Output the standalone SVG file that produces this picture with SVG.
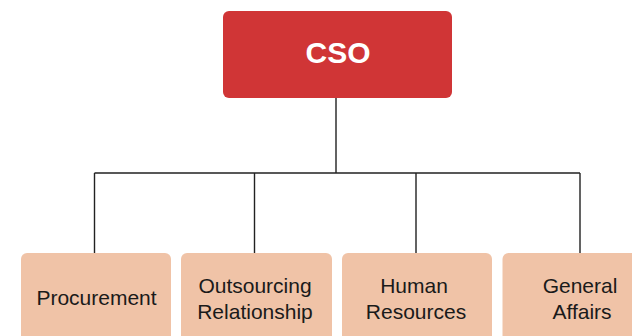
<svg xmlns="http://www.w3.org/2000/svg" width="632" height="336" viewBox="0 0 632 336">
<style>
.child{fill:#f0c3a7;}
.ct{font-family:"Liberation Sans",Arial,sans-serif;font-size:21px;fill:#1a1a1a;text-anchor:middle;}
.conn{stroke:#222;stroke-width:1.4;fill:none;}
</style>
<rect width="632" height="336" fill="#ffffff"/>
<g id="connectors">
<path class="conn" d="M336 98 V173 M94.5 173 H580 M94.5 173 V253 M254.5 173 V253 M416 173 V253 M580 173 V253"/>
</g>
<g id="cso">
<rect x="223" y="11" width="229" height="87" rx="6" fill="#d03536"/>
<text x="338" y="63" font-family="Liberation Sans,Arial,sans-serif" font-size="30" font-weight="bold" fill="#ffffff" text-anchor="middle">CSO</text>
</g>
<g id="procurement">
<rect class="child" x="21" y="253" width="150" height="100" rx="6"/>
<text class="ct" x="96.5" y="305">Procurement</text>
</g>
<g id="outsourcing">
<rect class="child" x="181" y="253" width="151" height="100" rx="6"/>
<text class="ct" x="255" y="293">Outsourcing</text>
<text class="ct" x="255" y="319">Relationship</text>
</g>
<g id="hr">
<rect class="child" x="342" y="253" width="150" height="100" rx="6"/>
<text class="ct" x="414" y="293">Human</text>
<text class="ct" x="416" y="319">Resources</text>
</g>
<g id="ga">
<rect class="child" x="502.5" y="253" width="155" height="100" rx="6"/>
<text class="ct" x="580" y="293">General</text>
<text class="ct" x="582" y="319">Affairs</text>
</g>
</svg>
